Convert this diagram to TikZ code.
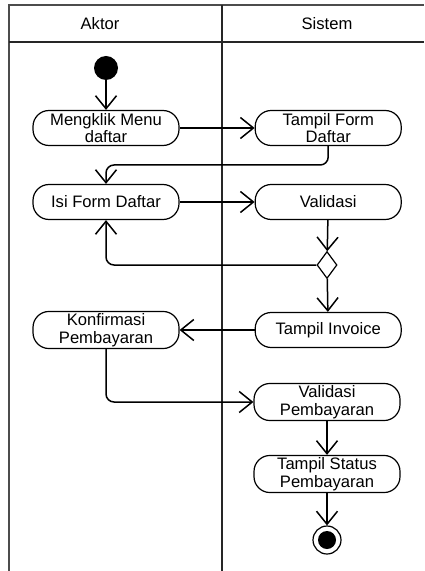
\documentclass[tikz,border=0pt]{standalone}
\usepackage{fontspec}
\setmainfont{Liberation Sans}
\usetikzlibrary{shapes.geometric, arrows.meta, positioning, calc}

\begin{document}
\begin{tikzpicture}[x=0.5pt, y=-0.5pt, font=\fontsize{8.3}{8.8}\selectfont,
    >={Straight Barb[length=6.5pt, width=10.5pt]},
    aksi/.style={draw, rounded corners=8pt, fill=white, align=center,
        minimum width=73pt, minimum height=17.5pt, inner sep=1pt, line width=0.6pt},
    alur/.style={->, line width=0.75pt, rounded corners=4pt}]
    \useasboundingbox (0,0) rectangle (424,571);
    % swimlane
    \draw[line width=0.7pt, black!70] (9,571) -- (9,5) -- (424,5);
    \draw[line width=0.7pt, black!85] (9,42) -- (424,42) (222,5) -- (222,571);
    \node (aktor) at (100,24) {Aktor};
    \node (sistem) at (327,24) {Sistem};

    \node[circle, fill=black, minimum size=12pt, inner sep=0pt] (mulai) at (106,68) {};
    \node[aksi] (mengklik) at (106,128) {Mengklik Menu\\daftar};
    \node[aksi, right=37.5pt of mengklik] (tampilform) {Tampil Form\\Daftar};
    \node[aksi] (isiform) at (106,202) {Isi Form Daftar};
    \node[aksi, right=37.5pt of isiform] (validasi) {Validasi};
    \node[diamond, draw, fill=white, inner sep=0pt, minimum width=10pt, minimum height=13.5pt,
          line width=0.6pt] (cek) at (327,265) {};
    \node[aksi] (konfirmasi) at (106,330) {Konfirmasi\\Pembayaran};
    \node[aksi, right=37.5pt of konfirmasi] (invoice) {Tampil Invoice};
    \node[aksi] (valbayar) at (327,402) {Validasi\\Pembayaran};
    \node[aksi] (status) at (327,474) {Tampil Status\\Pembayaran};
    \node[circle, draw, minimum size=14pt, inner sep=0pt, line width=0.6pt,
          path picture={\fill (path picture bounding box.center) circle (4.5pt);}] (selesai) at (327,540) {};

    \draw[alur] (mulai) -- (mengklik);
    \draw[alur] (mengklik) -- (tampilform);
    \draw[alur] (tampilform.south) |- ($(tampilform.south)!.5!(isiform.north)$) -| (isiform.north);
    \draw[alur] (isiform) -- (validasi);
    \draw[alur] (validasi) -- (cek);
    \draw[alur] (cek.west) -| (isiform.south);
    \draw[alur] (cek) -- (invoice);
    \draw[alur] (invoice) -- (konfirmasi);
    \draw[alur] (konfirmasi.south) |- (valbayar.west);
    \draw[alur] (valbayar) -- (status);
    \draw[alur] (status) -- (selesai);
\end{tikzpicture}
\end{document}
